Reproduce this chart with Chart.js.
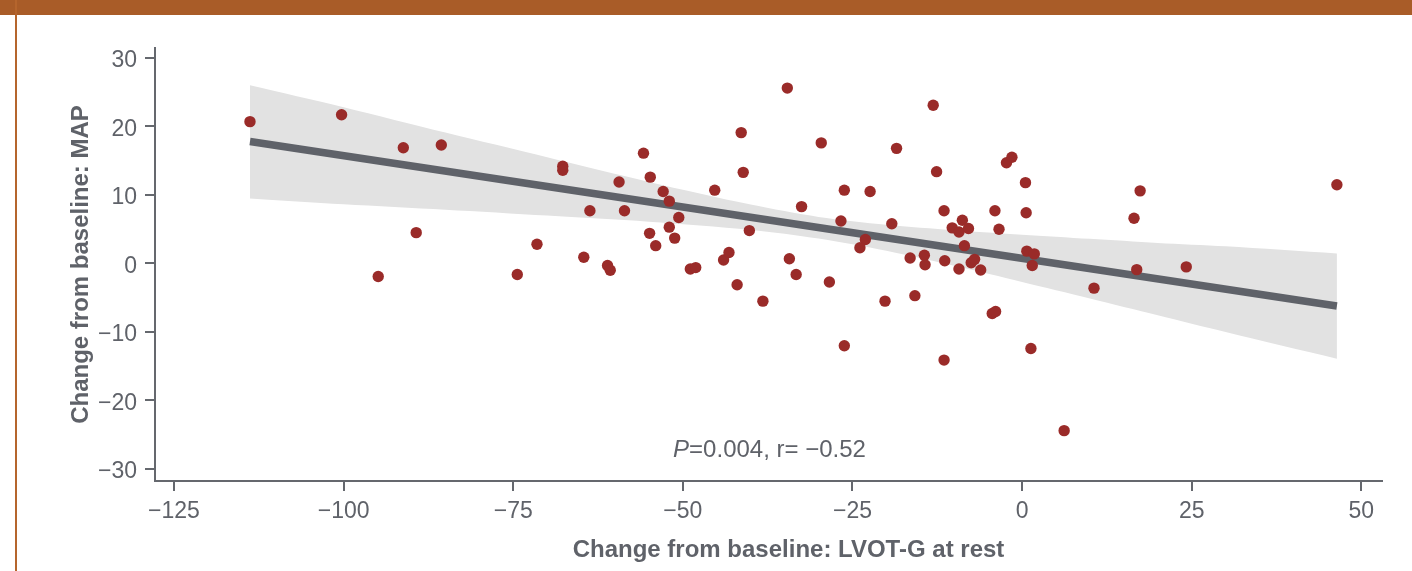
<!DOCTYPE html>
<html>
<head>
<meta charset="utf-8">
<script src="https://cdn.jsdelivr.net/npm/chart.js@4.4.1/dist/chart.umd.min.js"></script>
<style>
  html, body { margin: 0; padding: 0; background: #fff; }
  #wrap { position: relative; width: 1412px; height: 571px; overflow: hidden; }
  #topbar { position: absolute; left: 0; top: 0; width: 1412px; height: 15px; background: #a95c28; }
  #leftbar { position: absolute; left: 15px; top: 0; width: 2px; height: 571px; background: #b5652d; }
  canvas { position: absolute; left: 0; top: 0; }
</style>
</head>
<body>
<div id="wrap">
  <canvas id="chart" width="1412" height="571"></canvas>
  <div id="topbar"></div>
  <div id="leftbar"></div>
</div>
<script>
// patients: change in LVOT gradient at rest (x) vs change in MAP (y)
const lvotChange = [
  -113.8, -100.3, -94.9, -91.2, -89.3, -85.6, -74.4, -71.5, -67.7, -67.7,
  -64.6, -63.7, -61.1, -60.7, -59.4, -58.6, -55.8, -54.8, -54.9, -54.0,
  -52.9, -52.0, -52.0, -50.6, -51.2, -48.9, -48.1, -45.3, -44.0, -43.2,
  -42.0, -41.4, -41.1, -40.2, -38.2, -34.6, -34.3, -33.3, -32.5, -29.6,
  -28.4, -26.2, -26.7, -26.2, -23.1, -23.9, -22.4, -18.5, -19.2, -20.2,
  -16.5, -15.8, -14.4, -14.3, -13.1, -12.6, -11.5, -11.4, -11.5, -10.3,
  -9.3, -9.3, -8.8, -8.5, -7.9, -7.5, -7.0, -6.1, -4.4, -3.9,
  -4.0, -3.4, -2.3, -1.5, 0.5, 0.6, 0.7, 1.8, 1.5, 1.3,
  6.2, 10.6, 16.5, 16.9, 17.4, 24.2, 46.4
];
const mapChange = [
  20.7, 21.7, -1.9, 16.9, 4.5, 17.3, -1.6, 2.8, 14.2, 13.6,
  0.9, 7.7, -0.3, -1.0, 11.9, 7.7, 16.1, 12.6, 4.4, 2.6,
  10.5, 9.1, 5.3, 6.7, 3.7, -0.8, -0.6, 10.7, 0.5, 1.6,
  -3.1, 19.1, 13.3, 4.8, -5.5, 25.6, 0.7, -1.6, 8.3, 17.6,
  -2.7, 10.7, 6.2, -12.0, 3.5, 2.3, 10.5, 16.8, 5.8, -5.5,
  0.8, -4.7, 1.2, -0.2, 23.1, 13.4, 7.7, 0.4, -14.1, 5.2,
  4.6, -0.8, 6.3, 2.6, 5.1, 0.1, 0.6, -0.95, -7.3, -7.0,
  7.7, 5.0, 14.7, 15.5, 11.8, 7.4, 1.8, 1.4, -0.3, -12.4,
  -24.4, -3.6, 6.6, -0.9, 10.6, -0.5, 11.5
];

// fitted line and its confidence band
const fitX = [-113.8, 46.4];
const fitY = [17.8, -6.2];
const bandX = [-113.8, -100, -85, -70, -55, -40, -30, -20, -10, 0, 10, 20, 30, 46.4];
const bandUpper = [26.0, 22.8, 19.1, 15.5, 11.9, 8.6, 6.8, 5.65, 4.85, 4.2, 3.6, 3.0, 2.5, 1.45];
const bandLower = [9.5, 8.65, 7.85, 7.0, 6.1, 4.9, 3.65, 1.85, -0.35, -2.7, -5.1, -7.55, -10.0, -13.9];

const xTicks = [-125, -100, -75, -50, -25, 0, 25, 50];
const yTicks = [-30, -20, -10, 0, 10, 20, 30];

const xTitle = 'Change from baseline: LVOT-G at rest';
const yTitle = 'Change from baseline: MAP';
const statP = 'P';
const statRest = '=0.004, r= \u22120.52';

const grey = '#5f6269';
const axisGrey = '#65686e';
const fontFam = '"Liberation Sans", Arial, Helvetica, sans-serif';

function pts(xs, ys) {
  return xs.map((x, i) => ({ x: x, y: ys[i] }));
}
function fmt(v) {
  return v < 0 ? '\u2212' + Math.abs(v) : String(v);
}

const textPlugin = {
  id: 'texts',
  afterDraw(chart) {
    const ctx = chart.ctx;
    const area = chart.chartArea;
    ctx.save();
    ctx.fillStyle = grey;

    // x axis title
    ctx.font = 'bold 24px ' + fontFam;
    ctx.textAlign = 'center';
    ctx.textBaseline = 'alphabetic';
    ctx.fillText(xTitle, (area.left + area.right) / 2 + 20, 556.5);

    // y axis title
    ctx.save();
    ctx.translate(87.5, (area.top + area.bottom) / 2);
    ctx.rotate(-Math.PI / 2);
    ctx.fillText(yTitle, 0, 0);
    ctx.restore();

    // stats annotation
    ctx.textAlign = 'left';
    ctx.font = 'italic 24px ' + fontFam;
    const wP = ctx.measureText(statP).width;
    ctx.font = '24px ' + fontFam;
    const wR = ctx.measureText(statRest).width;
    const x0 = (area.left + area.right) / 2 + 1 - (wP + wR) / 2;
    ctx.font = 'italic 24px ' + fontFam;
    ctx.fillText(statP, x0, 456.5);
    ctx.font = '24px ' + fontFam;
    ctx.fillText(statRest, x0 + wP, 456.5);
    ctx.restore();
  }
};

const ctx = document.getElementById('chart').getContext('2d');
const chart = new Chart(ctx, {
  type: 'scatter',
  data: {
    datasets: [
      {
        label: 'patients',
        data: pts(lvotChange, mapChange),
        backgroundColor: '#9a2b29',
        borderWidth: 0,
        pointRadius: 5.7,
        order: 0
      },
      {
        label: 'fit',
        data: pts(fitX, fitY),
        showLine: true,
        borderColor: '#5f6269',
        borderWidth: 7.5,
        borderCapStyle: 'butt',
        pointRadius: 0,
        order: 1
      },
      {
        label: 'upper',
        data: pts(bandX, bandUpper),
        showLine: true,
        borderColor: 'rgba(0,0,0,0)',
        borderWidth: 1,
        pointRadius: 0,
        fill: '+1',
        backgroundColor: '#e2e2e2',
        tension: 0.3,
        order: 2
      },
      {
        label: 'lower',
        data: pts(bandX, bandLower),
        showLine: true,
        borderColor: 'rgba(0,0,0,0)',
        borderWidth: 1,
        pointRadius: 0,
        fill: false,
        tension: 0.3,
        order: 3
      }
    ]
  },
  options: {
    responsive: false,
    animation: false,
    layout: { padding: { left: 0, top: 48, right: 30, bottom: 0 } },
    plugins: {
      legend: { display: false },
      tooltip: { enabled: false }
    },
    scales: {
      x: {
        type: 'linear',
        min: -127.8,
        max: 53.05,
        afterFit(scale) { scale.height = 90; },
        afterBuildTicks(scale) { scale.ticks = xTicks.map(v => ({ value: v })); },
        border: { display: true, color: axisGrey, width: 2 },
        grid: { display: true, drawOnChartArea: false, drawTicks: true, tickLength: 10, tickColor: axisGrey, lineWidth: 2 },
        ticks: {
          color: grey,
          padding: 7,
          maxRotation: 0,
          font: { family: fontFam, size: 23 },
          callback: v => fmt(v)
        }
      },
      y: {
        type: 'linear',
        min: -31.75,
        max: 31.45,
        afterFit(scale) { scale.width = 155; },
        afterBuildTicks(scale) { scale.ticks = yTicks.map(v => ({ value: v })); },
        border: { display: true, color: axisGrey, width: 2 },
        grid: { display: true, drawOnChartArea: false, drawTicks: true, tickLength: 10, tickColor: axisGrey, lineWidth: 2 },
        ticks: {
          color: grey,
          padding: 8,
          labelOffset: 3,
          font: { family: fontFam, size: 23 },
          callback: v => fmt(v)
        }
      }
    }
  },
  plugins: [textPlugin]
});
</script>
</body>
</html>
